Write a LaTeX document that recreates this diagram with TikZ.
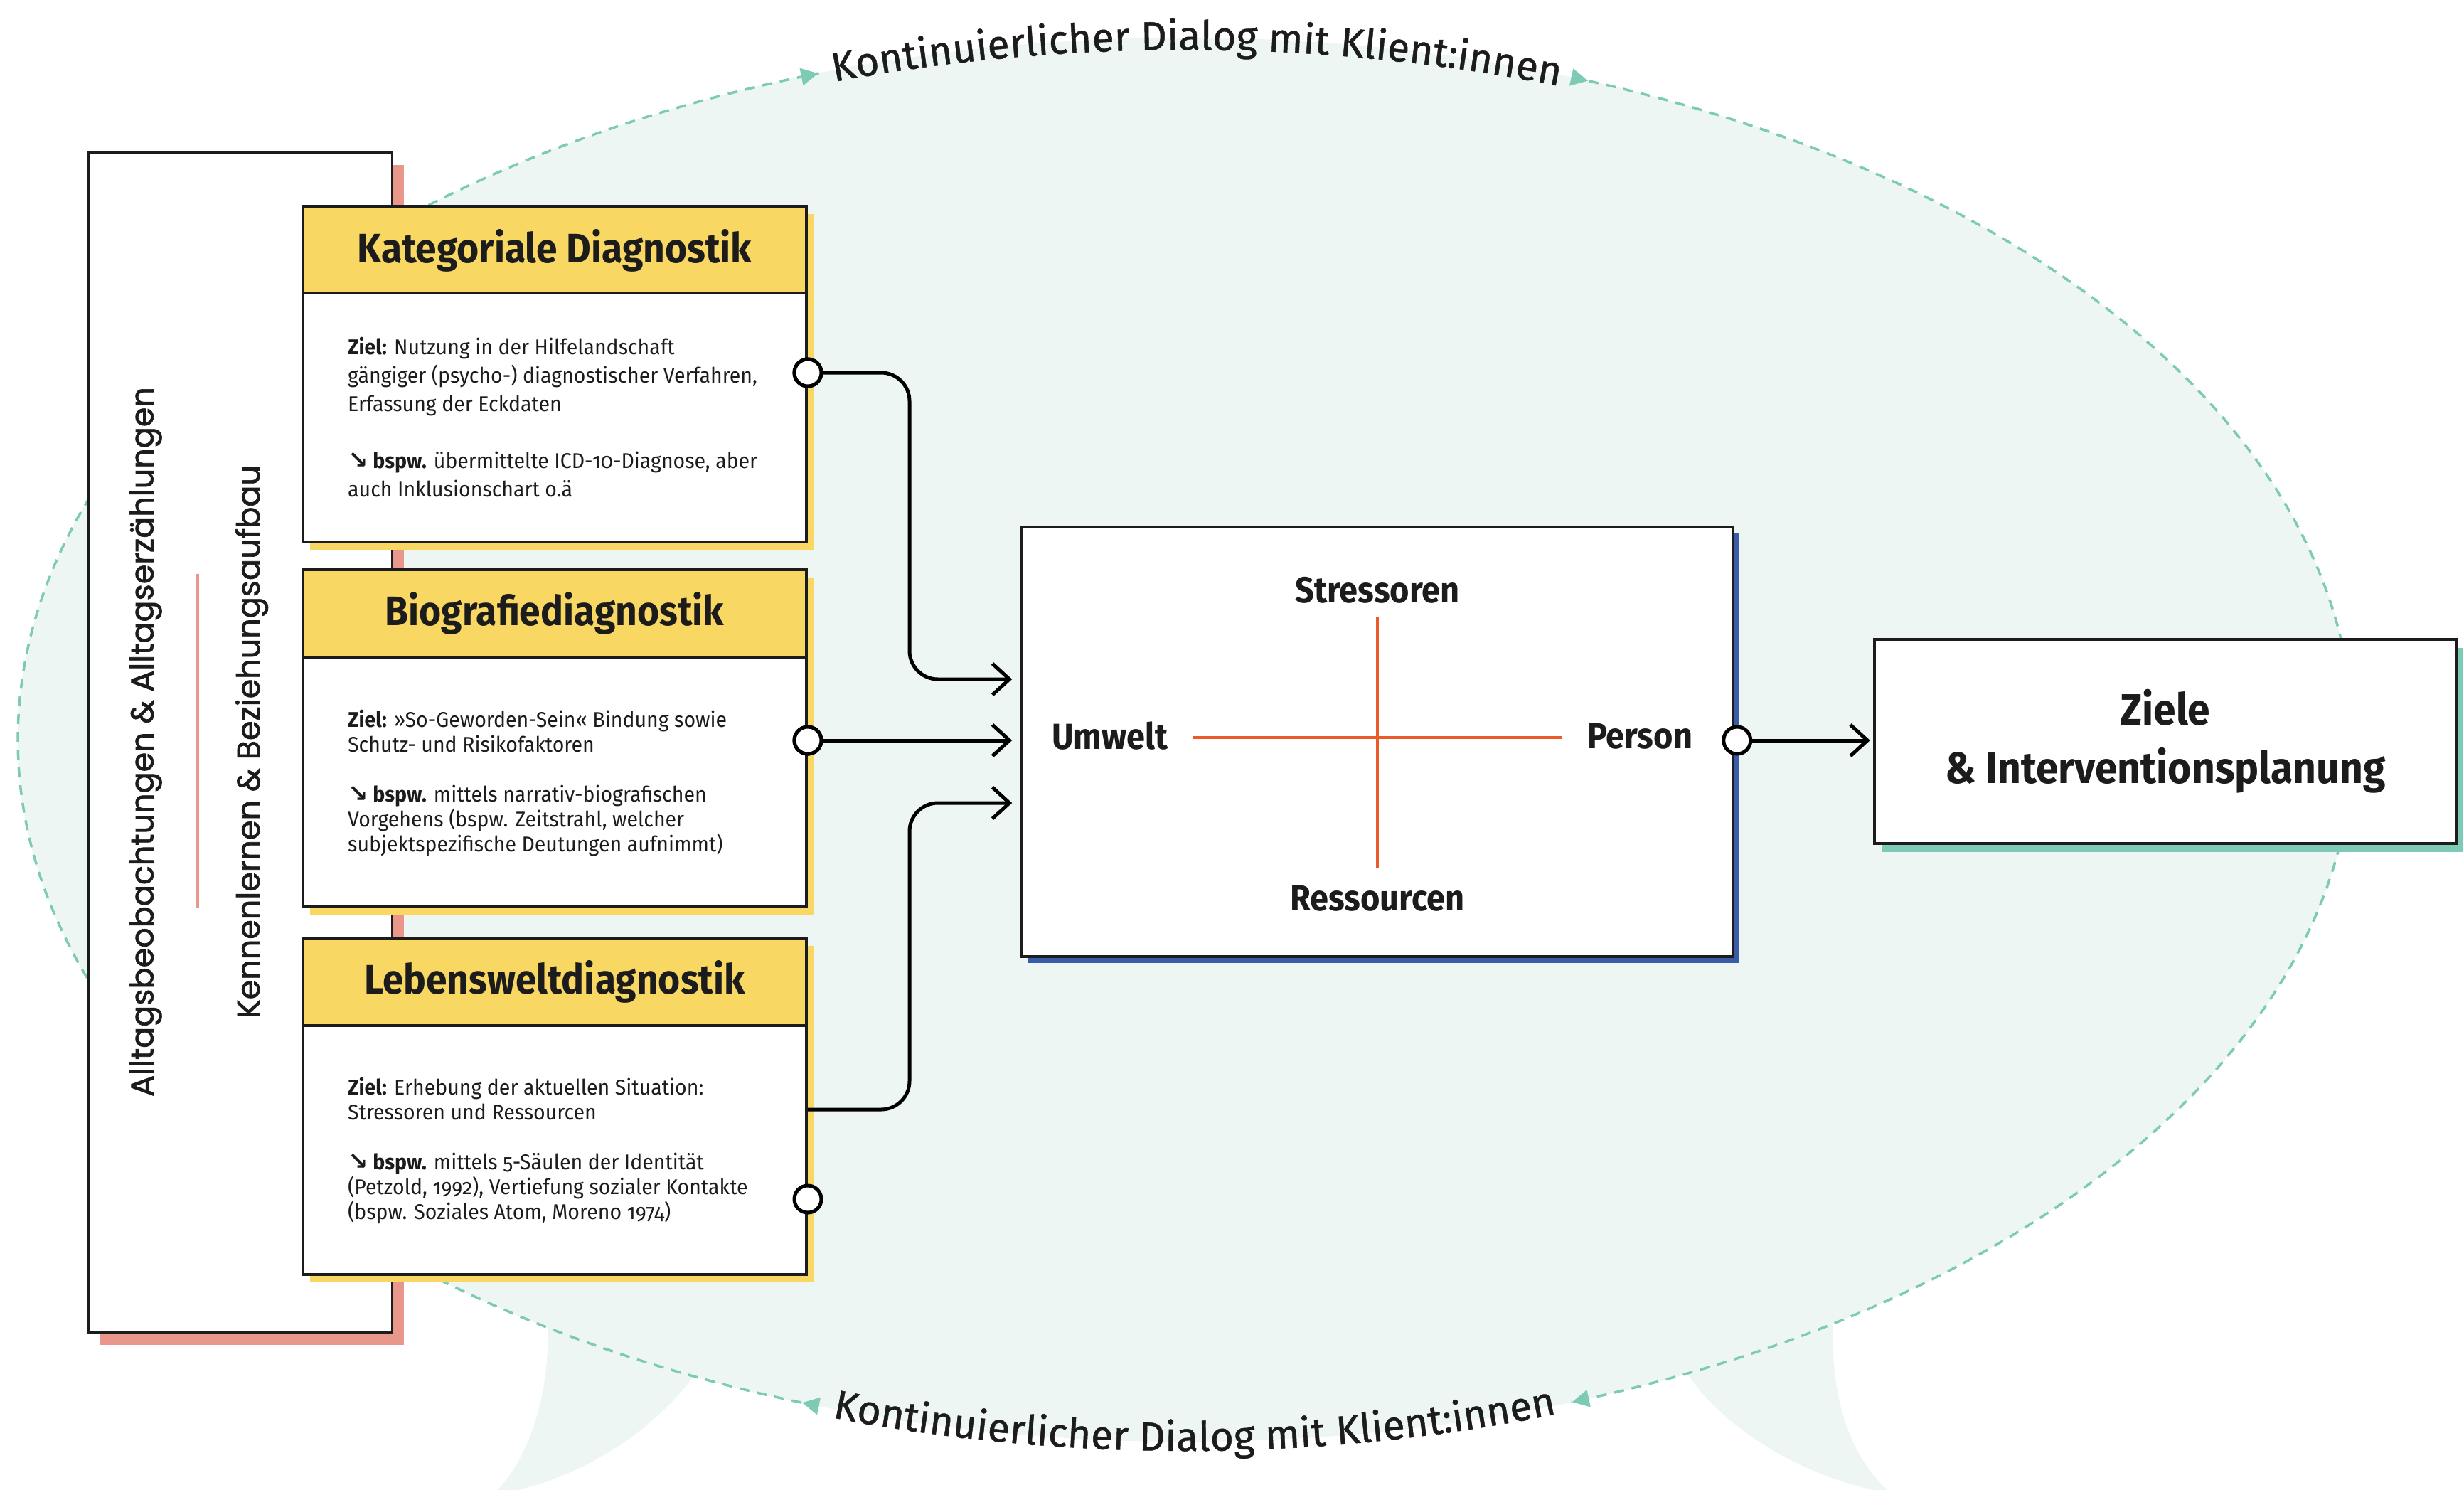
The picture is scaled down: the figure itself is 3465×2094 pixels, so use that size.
\documentclass[tikz,border=0pt]{standalone}
\usepackage{fontspec}
\setmainfont{Fira Sans}
\newfontfamily\bodyfont{Fira Sans}[FakeStretch=0.95, Numbers=OldStyle]
\newfontfamily\headfont{Fira Sans}[FakeStretch=0.92]
\newfontfamily\arcfont{Fira Sans}[FakeBold=0.8]
\newfontfamily\vertfont{Poppins}[FakeBold=1.5]
\newfontfamily\arrfont{DejaVu Sans}
\usetikzlibrary{arrows.meta, shadows, decorations.text, decorations.markings, calc}
\definecolor{bgmint}{HTML}{EDF6F2}
\definecolor{mint}{HTML}{7ECBB5}
\definecolor{yel}{HTML}{F8D762}
\definecolor{salmon}{HTML}{E8978A}
\definecolor{navy}{HTML}{3A5BA8}
\definecolor{tealsh}{HTML}{7DCBB6}
\definecolor{redor}{HTML}{EB5A2B}
\definecolor{ink}{HTML}{1C1C1C}
\newcommand\arcstyle{\arcfont\fontsize{57}{62}\selectfont\color{ink}}
\newcommand\bsp{\textbf{{\arrfont\bfseries\fontsize{34}{30}\selectfont ↘} bspw.}}
\begin{document}
\begin{tikzpicture}[x=1pt, y=-1pt,
  boxst/.style={rectangle, draw=ink, fill=white, inner sep=0pt, line width=4pt},
  headst/.style={boxst, fill=yel, minimum width=708pt, minimum height=124pt,
     font=\headfont\bfseries\fontsize{58}{64}\selectfont, text=ink,
     drop shadow={shadow xshift=10pt, shadow yshift=-11pt, fill=yel, opacity=1}},
  bodyst/.style={boxst, minimum width=708pt, minimum height=350pt,
     drop shadow={shadow xshift=10pt, shadow yshift=-11pt, fill=yel, opacity=1}},
  txtA/.style={inner sep=0pt, align=left, text=ink, font=\bodyfont\fontsize{30}{40}\selectfont},
  txtB/.style={inner sep=0pt, align=left, text=ink, font=\bodyfont\fontsize{30}{35}\selectfont},
  vtext/.style={inner sep=0pt, rotate=90, text=ink, font=\vertfont\fontsize{44.5}{50}\selectfont},
  qlabel/.style={inner sep=0pt, text=ink, font=\headfont\bfseries\fontsize{51}{56}\selectfont},
  conn/.style={draw=black, line width=5pt, rounded corners=40pt,
     -{Straight Barb[length=24pt, width=44pt]}},
  port/.style={circle, draw=black, fill=white, line width=5pt, minimum size=38pt, inner sep=0pt},
  dialog/.style={draw=mint, line width=3.5pt, dash pattern=on 14pt off 11pt,
     postaction={decorate},
     decoration={markings,
        mark=at position 24pt with {\arrow[mint]{Triangle[length=24pt, width=24pt]}},
        mark=at position -1pt with {\arrow[mint]{Triangle[length=24pt, width=24pt]}}}},
  quad/.style={draw=redor, line width=4pt}
]
\useasboundingbox (0,0) rectangle (3465,2094);
\clip (0,0) rectangle (3465,2094);

% background bubble
\fill[bgmint] (1667,1040) ellipse [x radius=1642, y radius=987];
\fill[bgmint] (770,1850) .. controls (775,1960) and (745,2050) .. (695,2100)
   .. controls (800,2090) and (930,2010) .. (985,1920) -- cycle;
\fill[bgmint] (2578,1850) .. controls (2572,1960) and (2600,2050) .. (2660,2100)
   .. controls (2540,2080) and (2420,2010) .. (2365,1920) -- cycle;

% dialog arcs
\draw[dialog] plot[domain=108.3:251.7, samples=160] ({1667+1642*cos(\x)}, {1040+987*sin(\x)});
\draw[dialog] plot[domain=-70.7:70.7, samples=160] ({1667+1642*cos(\x)}, {1040+987*sin(\x)});

\path[decorate, decoration={text along path,
   text={|\arcstyle|Kontinuierlicher Dialog mit Klient:innen}, text align=center}]
   plot[domain=244.6:296.6, samples=160] ({1667+1642*cos(\x)}, {1040+970*sin(\x)});
\path[decorate, decoration={text along path,
   text={|\arcstyle|Kontinuierlicher Dialog mit Klient:innen}, text align=center}]
   plot[domain=0:1, samples=160] ({1667+1642*cos(115.5-52*\x)}, {1040+1000*sin(115.5-52*\x)});

% left box
\node[boxst, line width=3pt, minimum width=427pt, minimum height=1659pt,
   drop shadow={shadow xshift=17pt, shadow yshift=-18pt, fill=salmon, opacity=1}]
   (lbox) at (337.5,1043.5) {};
\node[vtext] (lt1) at (205,1043) {Alltagsbeobachtungen \& Alltagserzählungen};
\node[vtext] (lt2) at (354,1043) {Kennenlernen \& Beziehungsaufbau};
\draw[salmon, line width=4pt] (278,807) -- (278,1277);

% diagnostic boxes
\node[headst] (h1) at (780,352) {Kategoriale Diagnostik};
\node[bodyst] (b1) at (780,587) {};
\node[txtA, anchor=west] (t1) at (489,587) {\textbf{Ziel:} Nutzung in der Hilfelandschaft\\
gängiger (psycho-) diagnostischer Verfahren,\\
Erfassung der Eckdaten\\[40pt]
\bsp{} übermittelte ICD-10-Diagnose, aber\\
auch Inklusionschart o.ä};

\node[headst] (h2) at (780,862.5) {Biografiediagnostik};
\node[bodyst] (b2) at (780,1099.5) {};
\node[txtB, anchor=west] (t2) at (489,1101) {\textbf{Ziel:} »So-Geworden-Sein« Bindung sowie\\
Schutz- und Risikofaktoren\\[35pt]
\bsp{} mittels narrativ-biografischen\\
Vorgehens (bspw. Zeitstrahl, welcher\\
subjektspezifische Deutungen aufnimmt)};

\node[headst] (h3) at (780,1380.5) {Lebensweltdiagnostik};
\node[bodyst] (b3) at (780,1617) {};
\node[txtB, anchor=west] (t3) at (489,1618) {\textbf{Ziel:} Erhebung der aktuellen Situation:\\
Stressoren und Ressourcen\\[35pt]
\bsp{} mittels 5-Säulen der Identität\\
(Petzold, 1992), Vertiefung sozialer Kontakte\\
(bspw. Soziales Atom, Moreno 1974)};

% center box
\node[boxst, line width=3.5pt, minimum width=1000pt, minimum height=604pt,
   drop shadow={shadow xshift=9pt, shadow yshift=-9pt, fill=navy, opacity=1}]
   (qbox) at (1937,1043) {};
\draw[quad] (1678,1037) -- (2196,1037);
\draw[quad] (1937,867) -- (1937,1220);
\node[qlabel] (stress) at (1937,830) {Stressoren};
\node[qlabel] (ress) at (1937,1263) {Ressourcen};
\node[qlabel] (umw) at (1561,1035) {Umwelt};
\node[qlabel] (pers) at (2306,1035) {Person};

% goals box
\node[boxst, line width=4.5pt, minimum width=818pt, minimum height=287pt,
   align=center, text=ink, font=\headfont\bfseries\fontsize{62}{82}\selectfont,
   drop shadow={shadow xshift=10pt, shadow yshift=-12pt, fill=tealsh, opacity=1}]
   (ziele) at (3045,1042.5) {Ziele\\\& Interventionsplanung};

% ports and connectors
\node[port] (c1) at ([yshift=63pt]b1.east) {};
\node[port] (c2) at ([yshift=58.5pt]b2.east) {};
\node[port] (c3) at ([yshift=-69pt]b3.east) {};
\coordinate (o3) at ([yshift=57pt]b3.east);
\coordinate (in1) at ([shift={(-12pt,88pt)}]qbox.west);
\coordinate (in2) at ([shift={(-12pt,2pt)}]qbox.west);
\coordinate (in3) at ([shift={(-12pt,-86pt)}]qbox.west);
\coordinate (bus) at (1279,1040);

\draw[conn] (c1.east) -- (c1.east -| bus) -- (in1 -| bus) -- (in1);
\draw[conn] (c2.east) -- (in2);
\draw[conn] (o3) -- (o3 -| bus) -- (in3 -| bus) -- (in3);

\node[port] (c4) at ([xshift=4pt,yshift=2pt]qbox.east) {};
\draw[conn, shorten >=4pt] (c4.east) -- (c4.east -| ziele.west);
\node[port] at (c1) {};
\node[port] at (c2) {};
\end{tikzpicture}
\end{document}
